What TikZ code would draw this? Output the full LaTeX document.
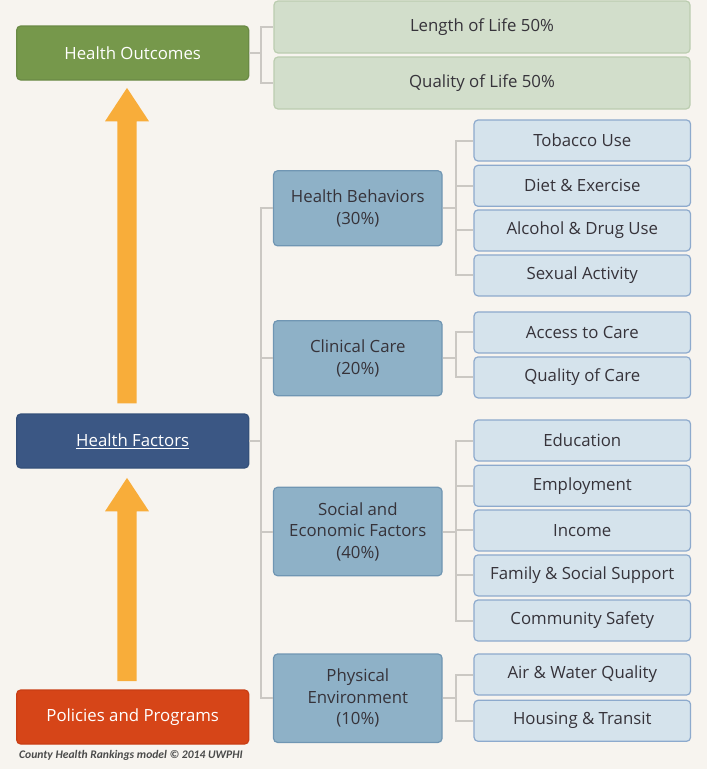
\documentclass[tikz,border=0pt]{standalone}
\usepackage{fontspec}
\setmainfont{Open Sans}
\newfontfamily\creditfont{Carlito}
\usetikzlibrary{calc}
\definecolor{bg}{HTML}{F7F4EF}
\definecolor{hogreen}{HTML}{76984B}
\definecolor{hogreenb}{HTML}{6A8A45}
\definecolor{hfblue}{HTML}{3B5784}
\definecolor{hfblueb}{HTML}{34507A}
\definecolor{ppred}{HTML}{D64518}
\definecolor{ppredb}{HTML}{C93E14}
\definecolor{lgreen}{HTML}{D2DECB}
\definecolor{lgreenb}{HTML}{BBCDB0}
\definecolor{mblue}{HTML}{8EB1C7}
\definecolor{mblueb}{HTML}{7096B3}
\definecolor{lblue}{HTML}{D5E3EC}
\definecolor{lblueb}{HTML}{8DAACD}
\definecolor{txt}{HTML}{36333A}
\definecolor{linkc}{HTML}{CBC8C3}
\definecolor{arrowc}{HTML}{F8AD3A}
\definecolor{creditc}{HTML}{4A4A4A}
\newcommand\fatarrow[2]{%
  \fill[arrowc] ($(#1)+(-9.7,0)$) -- ($(#2)+(-9.7,33.4)$) -- ($(#2)+(-22,33.4)$) -- (#2)
    -- ($(#2)+(22,33.4)$) -- ($(#2)+(9.7,33.4)$) -- ($(#1)+(9.7,0)$) -- cycle;}
\begin{document}
\begin{tikzpicture}[x=1pt,y=-1pt,
  font=\fontsize{16.8}{21.5}\selectfont,
  box/.style={rectangle, rounded corners=4pt, line width=1.2pt, inner sep=0pt, align=center},
  leftbox/.style={box, minimum width=232pt, minimum height=54pt, text=white},
  outbox/.style={box, fill=lgreen, draw=lgreenb, minimum width=416pt, minimum height=52pt, text=txt},
  midbox/.style={box, fill=mblue, draw=mblueb, minimum width=168.5pt, text=txt},
  subbox/.style={box, fill=lblue, draw=lblueb, minimum width=216.5pt, minimum height=41pt, text=txt},
  link/.style={draw=linkc, line width=2pt}]
\useasboundingbox (0,0) rectangle (707,769);
\fill[bg] (0,0) rectangle (707,769);

% left column
\node[leftbox, fill=hogreen, draw=hogreenb] (ho) at (132.7,53) {Health Outcomes};
\node[leftbox, fill=hfblue, draw=hfblueb] (hf) at (132.7,441) {\underline{Health Factors}};
\node[leftbox, fill=ppred, draw=ppredb] (pp) at (132.7,717) {Policies and Programs};

% outcomes
\node[outbox] (lol) at (482,27) {Length of Life 50\%};
\node[outbox] (qol) at (482,83) {Quality of Life 50\%};

% middle
\node[midbox, minimum height=75pt] (hb) at (357.8,208.3) {Health Behaviors\\(30\%)};
\node[midbox, minimum height=75pt] (cc) at (357.8,358.2) {Clinical Care\\(20\%)};
\node[midbox, minimum height=88.4pt] (se) at (357.8,531.5) {Social and\\Economic Factors\\(40\%)};
\node[midbox, minimum height=88.4pt] (pe) at (357.8,698.2) {Physical\\Environment\\(10\%)};

% right column
\node[subbox] (tob) at (582.3,140.5) {Tobacco Use};
\node[subbox] (diet) at (582.3,185.8) {Diet \& Exercise};
\node[subbox] (alc) at (582.3,230.4) {Alcohol \& Drug Use};
\node[subbox] (sex) at (582.3,275.4) {Sexual Activity};
\node[subbox] (acc) at (582.3,332.4) {Access to Care};
\node[subbox] (qoc) at (582.3,377.4) {Quality of Care};
\node[subbox] (edu) at (582.3,440.5) {Education};
\node[subbox] (emp) at (582.3,485.8) {Employment};
\node[subbox] (inc) at (582.3,530.4) {Income};
\node[subbox] (fam) at (582.3,575.4) {Family \& Social Support};
\node[subbox] (com) at (582.3,620.5) {Community Safety};
\node[subbox] (air) at (582.3,674.5) {Air \& Water Quality};
\node[subbox] (hou) at (582.3,720.8) {Housing \& Transit};

% connectors
\draw[link] (ho.east) -- ++(12,0) coordinate (hoj);
\draw[link] (hoj) |- (lol.west);
\draw[link] (hoj) |- (qol.west);

\draw[link] (hf.east) -- ++(12,0) coordinate (hfj);
\draw[link] (hfj) |- (hb.west);
\draw[link] (hfj) |- (cc.west);
\draw[link] (hfj) |- (se.west);
\draw[link] (hfj) |- (pe.west);

\draw[link] (hb.east) -- ++(13.7,0) coordinate (hbj);
\foreach \t in {tob,diet,alc,sex} \draw[link] (hbj) |- (\t.west);
\draw[link] (cc.east) -- ++(13.7,0) coordinate (ccj);
\foreach \t in {acc,qoc} \draw[link] (ccj) |- (\t.west);
\draw[link] (se.east) -- ++(13.7,0) coordinate (sej);
\foreach \t in {edu,emp,inc,fam,com} \draw[link] (sej) |- (\t.west);
\draw[link] (pe.east) -- ++(13.7,0) coordinate (pej);
\foreach \t in {air,hou} \draw[link] (pej) |- (\t.west);

% big arrows
\coordinate (a1b) at ($(pp.north)+(-5.7,-8.3)$);
\coordinate (a1t) at ($(hf.south)+(-5.7,9.3)$);
\fatarrow{a1b}{a1t}
\coordinate (a2b) at ($(hf.north)+(-5.7,-10)$);
\coordinate (a2t) at ($(ho.south)+(-5.7,7.3)$);
\fatarrow{a2b}{a2t}

% credit
\node[anchor=base west, inner sep=0pt, text=creditc,
  font=\creditfont\bfseries\itshape\fontsize{11.6}{13}\selectfont] (credit) at (19,758.5)
  {County Health Rankings model © 2014 UWPHI};
\end{tikzpicture}
\end{document}
